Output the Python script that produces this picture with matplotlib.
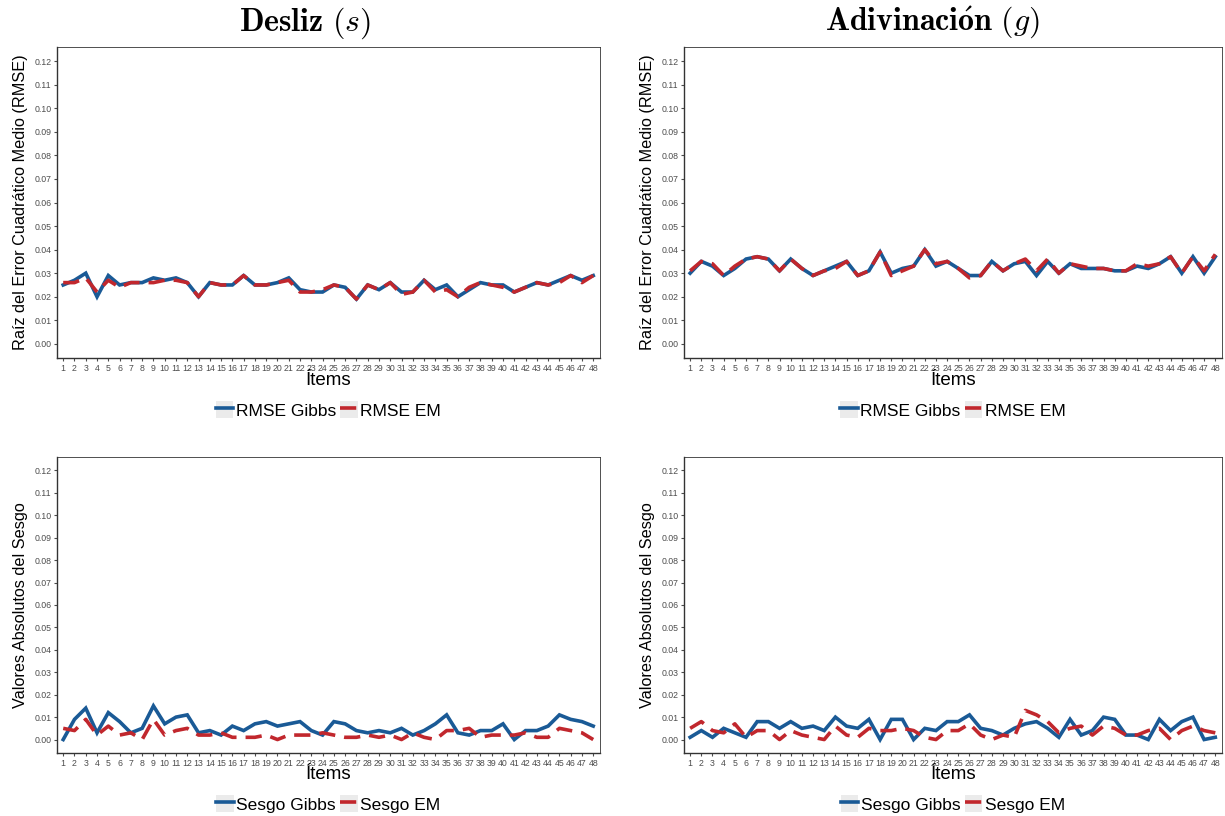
import matplotlib
matplotlib.use("Agg")
import matplotlib.pyplot as plt
from matplotlib.lines import Line2D
from matplotlib.patches import Patch
from matplotlib.legend_handler import HandlerTuple
import numpy as np

plt.rcParams['font.family'] = ['Liberation Sans', 'DejaVu Sans']
plt.rcParams['mathtext.fontset'] = 'cm'

items = list(range(1, 49))

# RMSE - desliz (s)
rmse_gibbs_s = [0.025, 0.027, 0.030, 0.020, 0.029, 0.025, 0.026, 0.026, 0.028, 0.027,
                0.028, 0.026, 0.020, 0.026, 0.025, 0.025, 0.029, 0.025, 0.025, 0.026,
                0.028, 0.023, 0.022, 0.022, 0.025, 0.024, 0.019, 0.025, 0.023, 0.026,
                0.022, 0.022, 0.027, 0.023, 0.025, 0.020, 0.023, 0.026, 0.025, 0.025,
                0.022, 0.024, 0.026, 0.025, 0.027, 0.029, 0.027, 0.029]
rmse_em_s = [0.026, 0.026, 0.028, 0.022, 0.027, 0.024, 0.026, 0.026, 0.026, 0.027,
             0.027, 0.026, 0.020, 0.026, 0.025, 0.025, 0.029, 0.025, 0.025, 0.026,
             0.027, 0.022, 0.022, 0.023, 0.025, 0.024, 0.019, 0.025, 0.023, 0.026,
             0.021, 0.022, 0.027, 0.022, 0.023, 0.020, 0.024, 0.026, 0.025, 0.024,
             0.022, 0.024, 0.026, 0.025, 0.026, 0.029, 0.026, 0.029]

# RMSE - adivinacion (g)
rmse_gibbs_g = [0.030, 0.035, 0.033, 0.029, 0.032, 0.036, 0.037, 0.036, 0.031, 0.036,
                0.032, 0.029, 0.031, 0.033, 0.035, 0.029, 0.031, 0.039, 0.030, 0.032,
                0.033, 0.040, 0.033, 0.035, 0.032, 0.029, 0.029, 0.035, 0.031, 0.034,
                0.035, 0.029, 0.035, 0.030, 0.034, 0.032, 0.032, 0.032, 0.031, 0.031,
                0.033, 0.032, 0.034, 0.037, 0.030, 0.037, 0.030, 0.037]
rmse_em_g = [0.031, 0.035, 0.034, 0.029, 0.033, 0.036, 0.037, 0.036, 0.031, 0.036,
             0.032, 0.029, 0.031, 0.032, 0.035, 0.029, 0.031, 0.039, 0.029, 0.031,
             0.033, 0.040, 0.034, 0.035, 0.032, 0.028, 0.029, 0.035, 0.031, 0.034,
             0.036, 0.031, 0.036, 0.030, 0.034, 0.033, 0.032, 0.032, 0.031, 0.031,
             0.034, 0.033, 0.034, 0.037, 0.030, 0.037, 0.031, 0.038]

# Sesgo absoluto - desliz (s)
sesgo_gibbs_s = [0.000, 0.009, 0.014, 0.003, 0.012, 0.008, 0.003, 0.005, 0.015, 0.007,
                 0.010, 0.011, 0.003, 0.004, 0.002, 0.006, 0.004, 0.007, 0.008, 0.006,
                 0.007, 0.008, 0.004, 0.002, 0.008, 0.007, 0.004, 0.003, 0.004, 0.003,
                 0.005, 0.002, 0.004, 0.007, 0.011, 0.003, 0.002, 0.004, 0.004, 0.007,
                 0.000, 0.004, 0.004, 0.006, 0.011, 0.009, 0.008, 0.006]
sesgo_em_s = [0.005, 0.004, 0.009, 0.002, 0.006, 0.002, 0.003, 0.000, 0.009, 0.002,
              0.004, 0.005, 0.002, 0.002, 0.003, 0.001, 0.001, 0.001, 0.002, 0.000,
              0.002, 0.002, 0.002, 0.003, 0.002, 0.001, 0.001, 0.002, 0.001, 0.002,
              0.000, 0.003, 0.001, 0.000, 0.004, 0.004, 0.005, 0.001, 0.002, 0.002,
              0.002, 0.003, 0.001, 0.001, 0.005, 0.004, 0.003, 0.000]

# Sesgo absoluto - adivinacion (g)
sesgo_gibbs_g = [0.001, 0.004, 0.001, 0.005, 0.003, 0.001, 0.008, 0.008, 0.005, 0.008,
                 0.005, 0.006, 0.004, 0.010, 0.006, 0.005, 0.009, 0.000, 0.009, 0.009,
                 0.000, 0.005, 0.004, 0.008, 0.008, 0.011, 0.005, 0.004, 0.002, 0.005,
                 0.007, 0.008, 0.005, 0.001, 0.009, 0.002, 0.004, 0.010, 0.009, 0.002,
                 0.002, 0.000, 0.009, 0.004, 0.008, 0.010, 0.000, 0.001]
sesgo_em_g = [0.005, 0.008, 0.004, 0.003, 0.007, 0.001, 0.004, 0.004, 0.000, 0.004,
              0.002, 0.001, 0.000, 0.006, 0.002, 0.001, 0.005, 0.004, 0.004, 0.005,
              0.004, 0.001, 0.000, 0.004, 0.004, 0.007, 0.002, 0.000, 0.002, 0.001,
              0.013, 0.011, 0.008, 0.003, 0.005, 0.006, 0.002, 0.006, 0.005, 0.002,
              0.002, 0.004, 0.005, 0.000, 0.004, 0.006, 0.004, 0.003]

blue = '#1a5a96'
red = '#c1272d'
W, H = 1225, 816

fig = plt.figure(figsize=(12.25, 8.16), dpi=100)
fig.patch.set_facecolor('white')


def panel(rect, gibbs, em, ylabel, names, xl_y, leg_y):
    ax = fig.add_axes(rect)
    ax.plot(items, gibbs, color=blue, lw=2.6, solid_joinstyle='miter')
    ax.plot(items, em, color=red, lw=2.6, dashes=(4.5, 2.5))
    ax.set_xlim(0.45, 48.6)
    ax.set_ylim(-0.006, 0.126)
    ax.set_yticks(np.arange(0, 0.121, 0.01))
    ax.set_yticklabels([f"{v:.2f}" for v in np.arange(0, 0.121, 0.01)])
    ax.set_xticks(items)
    ax.set_xticklabels([str(i) for i in items])
    ax.tick_params(axis='both', labelsize=6.3, colors='#4d4d4d', length=2.5,
                   width=0.8, pad=1.5)
    for s in ['top', 'right']:
        ax.spines[s].set_color('#333333')
        ax.spines[s].set_linewidth(0.6)
    for s in ['left', 'bottom']:
        ax.spines[s].set_color('#333333')
        ax.spines[s].set_linewidth(1.0)
    ax.set_ylabel(ylabel, fontsize=11.7, color='black')
    ax.yaxis.set_label_coords(-0.053, 0.5)
    ax.text(0.5, xl_y, 'Ítems', transform=ax.transAxes, ha='center',
            va='center', fontsize=13.5)
    key = Patch(facecolor='#ebebeb', edgecolor='none')
    h1 = Line2D([], [], color=blue, lw=2.6)
    h2 = Line2D([], [], color=red, lw=2.6, dashes=(4.5, 2.5))
    ax.legend([(key, h1), (key, h2)], names,
              handler_map={tuple: HandlerTuple(ndivide=1)},
              loc='center', bbox_to_anchor=(0.5, leg_y), ncol=2, frameon=False,
              fontsize=12.5, handlelength=1.0, handleheight=1.1,
              handletextpad=0.15, columnspacing=0.25, borderaxespad=0)
    return ax


top_h = 311 / H
bot_h = 296 / H
panel([57 / W, 1 - 358 / H, 543 / W, top_h], rmse_gibbs_s, rmse_em_s,
      'Raíz del Error Cuadrático Medio (RMSE)', ['RMSE Gibbs', 'RMSE EM'],
      -0.071, -0.167)
panel([684 / W, 1 - 358 / H, 538 / W, top_h], rmse_gibbs_g, rmse_em_g,
      'Raíz del Error Cuadrático Medio (RMSE)', ['RMSE Gibbs', 'RMSE EM'],
      -0.071, -0.167)
panel([57 / W, 1 - 753 / H, 543 / W, bot_h], sesgo_gibbs_s, sesgo_em_s,
      'Valores Absolutos del Sesgo', ['Sesgo Gibbs', 'Sesgo EM'],
      -0.074, -0.172)
panel([684 / W, 1 - 753 / H, 538 / W, bot_h], sesgo_gibbs_g, sesgo_em_g,
      'Valores Absolutos del Sesgo', ['Sesgo Gibbs', 'Sesgo EM'],
      -0.074, -0.172)

fig.text(305 / W, 1 - 23 / H, r'$\mathbf{Desliz}\ (s)$', ha='center',
         va='center', fontsize=23)
fig.text(932 / W, 1 - 23 / H, r'$\mathbf{Adivinaci\acute{o}n}\ (g)$',
         ha='center', va='center', fontsize=23)

fig.savefig('out.png', dpi=100, facecolor='white')
